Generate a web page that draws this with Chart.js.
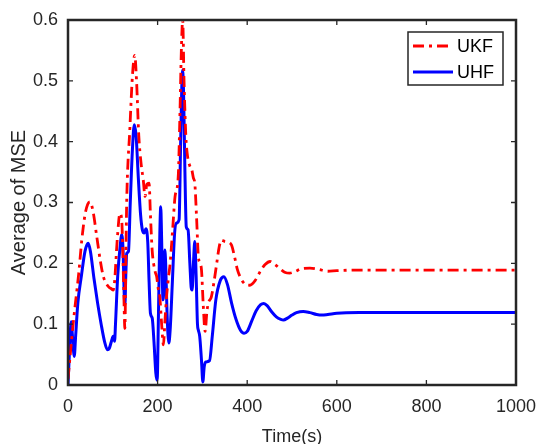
<!DOCTYPE html>
<html><head><meta charset="utf-8">
<script src="https://cdn.jsdelivr.net/npm/chart.js@4/dist/chart.umd.min.js"></script>
<style>html,body{margin:0;padding:0;background:#fff;}#wrap{width:536px;height:444px;}</style>
</head><body><div id="wrap"><canvas id="c" width="536" height="444"></canvas></div>
<script>
const seriesNames = ['UKF', 'UHF'];
const tUKF = [0,5,12,24,31,38,44,49,56,64,72,79,90,97,101,104,110,116,120,124,127,129,131,138,144,149,153,158,163,168,172,176,181,184,188,191,195,198,201,205,209,213,216,220,224,228,234,239,246,250,253,256,259,263,266,272,276,280,283,287,291,295,298,302,306,310,313,320,326,332,337,342,350,358,365,372,378,384,395,406,418,430,440,451,462,475,485,495,508,520,540,560,580,600,650,700,800,900,1000];
const vUKF = [0.01,0.05,0.104,0.184,0.24,0.28,0.297,0.301,0.285,0.245,0.205,0.178,0.162,0.158,0.156,0.17,0.24,0.282,0.27,0.17,0.093,0.2,0.3,0.42,0.51,0.542,0.5,0.41,0.365,0.337,0.31,0.33,0.332,0.28,0.22,0.2,0.185,0.178,0.16,0.145,0.1,0.066,0.1,0.145,0.175,0.2,0.26,0.31,0.342,0.45,0.55,0.6,0.5,0.41,0.381,0.36,0.355,0.34,0.332,0.275,0.211,0.2,0.189,0.13,0.088,0.12,0.134,0.145,0.17,0.2,0.225,0.238,0.236,0.235,0.23,0.21,0.19,0.178,0.166,0.164,0.172,0.188,0.198,0.203,0.198,0.19,0.185,0.184,0.187,0.191,0.192,0.19,0.187,0.188,0.189,0.189,0.189,0.189,0.189];
const tUHF = [0,3,7,10,14,17,22,30,38,45,50,58,66,74,82,88,92,97,101,104,106,111,116,120,123,125,127,129,131,135,139,144,148,152,157,162,166,170,174,178,181,184,188,192,196,199,202,205,207,209,212,214,216,218,221,225,228,233,238,242,248,251,254,256,258,261,264,268,272,275,277,280,283,286,289,291,294,298,301,304,308,316,322,330,340,348,356,365,375,385,393,400,410,420,430,437,445,455,465,475,481,490,500,510,525,540,555,567,580,600,650,700,800,900,1000];
const vUHF = [0.0,0.05,0.104,0.08,0.047,0.08,0.135,0.18,0.22,0.233,0.22,0.175,0.135,0.1,0.07,0.058,0.06,0.072,0.08,0.072,0.1,0.18,0.225,0.247,0.22,0.16,0.131,0.18,0.216,0.22,0.3,0.39,0.428,0.41,0.34,0.28,0.255,0.25,0.257,0.235,0.17,0.118,0.11,0.07,0.02,0.008,0.12,0.25,0.293,0.24,0.14,0.16,0.222,0.2,0.12,0.069,0.09,0.17,0.25,0.266,0.272,0.38,0.49,0.518,0.48,0.35,0.26,0.255,0.2,0.16,0.156,0.2,0.236,0.18,0.1,0.09,0.08,0.04,0.005,0.03,0.038,0.04,0.08,0.14,0.172,0.178,0.165,0.135,0.108,0.09,0.085,0.088,0.105,0.122,0.132,0.134,0.13,0.12,0.112,0.108,0.107,0.11,0.115,0.119,0.121,0.119,0.116,0.115,0.116,0.118,0.119,0.119,0.119,0.119,0.119];
const xTicks = [0,200,400,600,800,1000];
const yTicks = [0,0.1,0.2,0.3,0.4,0.5,0.6];
const xTitle = 'Time(s)';
const yTitle = 'Average of MSE';

const FONT = '"Liberation Sans", Arial, sans-serif';
const AX = '#262626';

const framePlugin = {
  id: 'frame',
  afterDraw(chart) {
    const ctx = chart.ctx, a = chart.chartArea;
    const xs = chart.scales.x, ys = chart.scales.y;
    ctx.save();
    ctx.strokeStyle = AX; ctx.lineWidth = 1.3;
    const L = 5;
    ctx.beginPath();
    xTicks.forEach(v => { const p = xs.getPixelForValue(v);
      ctx.moveTo(p, a.bottom); ctx.lineTo(p, a.bottom - L);
      ctx.moveTo(p, a.top); ctx.lineTo(p, a.top + L); });
    yTicks.forEach(v => { const p = ys.getPixelForValue(v);
      ctx.moveTo(a.left, p); ctx.lineTo(a.left + L, p);
      ctx.moveTo(a.right, p); ctx.lineTo(a.right - L, p); });
    ctx.stroke();
    ctx.lineWidth = 2.5;
    ctx.strokeRect(a.left, a.top, a.right - a.left, a.bottom - a.top);
    // legend
    const bx = 408, by = 32, bw = 95, bh = 53;
    ctx.fillStyle = '#fff';
    ctx.fillRect(bx, by, bw, bh);
    ctx.lineWidth = 1.5;
    ctx.strokeStyle = AX;
    ctx.strokeRect(bx, by, bw, bh);
    ctx.font = '18px ' + FONT;
    ctx.textBaseline = 'middle';
    chart.data.datasets.forEach((ds, i) => {
      const y = by + 14 + i * 26;
      ctx.beginPath();
      ctx.setLineDash(ds.borderDash || []);
      ctx.strokeStyle = ds.borderColor; ctx.lineWidth = ds.borderWidth;
      ctx.moveTo(bx + 5, y); ctx.lineTo(bx + 45, y); ctx.stroke();
      ctx.setLineDash([]);
      ctx.fillStyle = '#000';
      ctx.fillText(ds.label, bx + 49, y + 1);
    });
    ctx.restore();
  }
};

new Chart(document.getElementById('c'), {
  type: 'line',
  data: {
    datasets: [
      { label: seriesNames[0], data: tUKF.map((t, i) => ({x: t, y: vUKF[i]})),
        borderColor: '#ff0000', borderWidth: 2.8, borderDash: [11, 5, 3, 5],
        pointRadius: 0, cubicInterpolationMode: 'monotone', fill: false },
      { label: seriesNames[1], data: tUHF.map((t, i) => ({x: t, y: vUHF[i]})),
        borderColor: '#0000ff', borderWidth: 3, pointRadius: 0,
        cubicInterpolationMode: 'monotone', fill: false }
    ]
  },
  options: {
    responsive: false, animation: false,
    layout: { padding: { top: 20, right: 20, left: 0, bottom: 0 } },
    plugins: { legend: { display: false }, tooltip: { enabled: false } },
    scales: {
      x: { type: 'linear', min: 0, max: 1000,
        afterBuildTicks: s => { s.ticks = xTicks.map(v => ({value: v})); },
        afterFit: s => { s.height = 59; s.paddingLeft = 0; s.paddingRight = 0; },
        grid: { display: false, drawTicks: false }, border: { display: false },
        ticks: { color: AX, font: { size: 18, family: FONT, lineHeight: 1 }, padding: 13, maxRotation: 0, autoSkip: false,
          callback: v => String(v) },
        title: { display: true, text: xTitle, color: AX, font: { size: 18, family: FONT, lineHeight: 1 }, padding: { top: 0, bottom: -2 } } },
      y: { type: 'linear', min: 0, max: 0.6,
        afterBuildTicks: s => { s.ticks = yTicks.map(v => ({value: v})); },
        afterFit: s => { s.width = 68; s.paddingTop = 0; s.paddingBottom = 0; },
        grid: { display: false, drawTicks: false }, border: { display: false },
        ticks: { color: AX, font: { size: 18, family: FONT }, padding: 10, autoSkip: false,
          callback: v => String(Number(v.toFixed(1))) },
        title: { display: true, text: yTitle, color: AX, font: { size: 20, family: FONT, lineHeight: 1 }, padding: { top: 9, bottom: 0 } } }
    }
  },
  plugins: [framePlugin]
});
</script></body></html>
